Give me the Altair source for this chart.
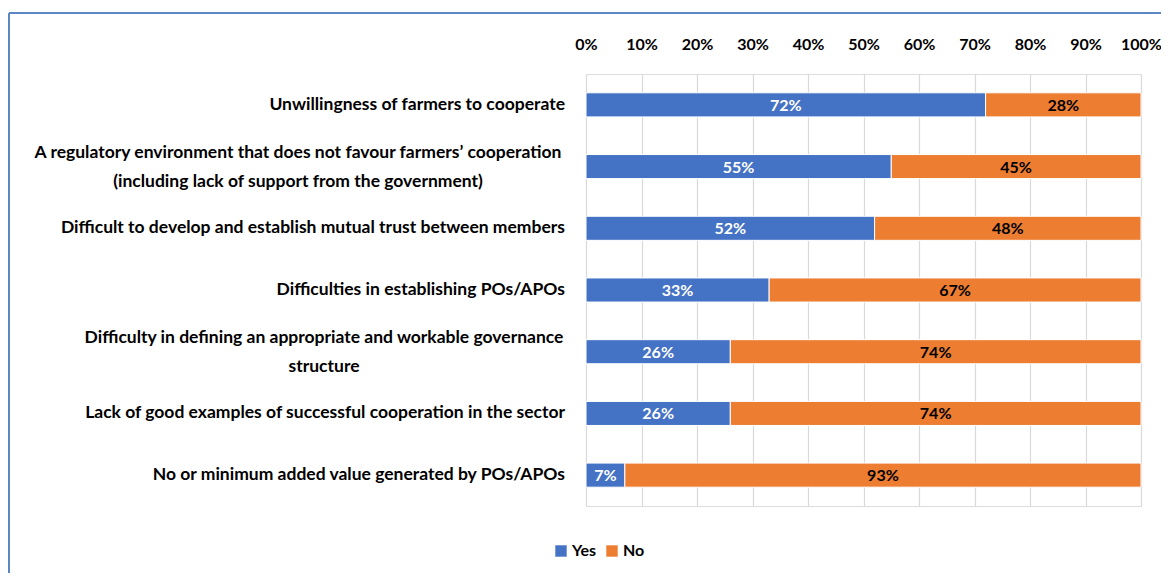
import altair as alt
import pandas as pd

categories = [
    "Unwillingness of farmers to cooperate",
    "A regulatory environment that does not favour farmers\u2019 cooperation|(including lack of support from the government)",
    "Difficult to develop and establish mutual trust between members",
    "Difficulties in establishing POs/APOs",
    "Difficulty in defining an appropriate and workable governance|structure",
    "Lack of good examples of successful cooperation in the sector",
    "No or minimum added value generated by POs/APOs",
]
yes_pct = [72, 55, 52, 33, 26, 26, 7]
no_pct = [28, 45, 48, 67, 74, 74, 93]
series = ["Yes", "No"]
colors = ["#4472C4", "#ED7D31"]
x_ticks = [0, 10, 20, 30, 40, 50, 60, 70, 80, 90, 100]

rows = []
for i, c in enumerate(categories):
    rows.append({"cat": c, "idx": i, "series": "Yes", "ord": 0, "value": yes_pct[i]})
    rows.append({"cat": c, "idx": i, "series": "No", "ord": 1, "value": no_pct[i]})
df = pd.DataFrame(rows)

FONT = "Lato"
FS = 16
LFS = 17.5

y_enc = alt.Y("cat:N", sort=categories, title=None,
              scale=alt.Scale(paddingInner=0.61, paddingOuter=0.305),
              axis=None)

base = alt.Chart(df).transform_stack(
    stack="value", groupby=["cat"], as_=["v0", "v1"], sort=[alt.SortField("ord")]
).transform_calculate(mid="(datum.v0 + datum.v1) / 2", lab="datum.value + '%'")

xscale = alt.Scale(domain=[0, 100], nice=False)

bars = base.mark_bar(stroke="white", strokeWidth=1).encode(
    x=alt.X("v0:Q", scale=xscale, title=None,
            axis=alt.Axis(orient="top", values=x_ticks, labelExpr="datum.value + '%'",
                          domain=False, ticks=False, labelPadding=22, labelOverlap=False,
                          labelFlush=False,
                          labelFont=FONT, labelFontSize=FS, labelFontWeight="bold",
                          labelColor="#000000", gridColor="#d9d9d9", gridWidth=1.2)),
    x2="v1:Q",
    y=y_enc,
    color=alt.Color("series:N", scale=alt.Scale(domain=series, range=colors), title=None,
                    legend=alt.Legend(orient="none", legendX=-33, legendY=469, direction="horizontal",
                                      symbolType="square", symbolSize=130, symbolStrokeWidth=0,
                                      labelFont=FONT, labelFontSize=FS, labelFontWeight="bold",
                                      labelColor="#000000", columnPadding=7, labelOffset=3)),
)

texts = base.mark_text(font=FONT, fontSize=FS, fontWeight="bold", baseline="middle", dy=1).encode(
    x=alt.X("mid:Q", scale=xscale),
    y=y_enc,
    text="lab:N",
    color=alt.Color("series:N", scale=alt.Scale(domain=series, range=["#ffffff", "#000000"]), legend=None),
)

lab_df = pd.DataFrame({"cat": categories, "idx": list(range(len(categories))),
                       "multi": ["|" in c for c in categories]})
single = alt.Chart(lab_df).transform_filter("!datum.multi").mark_text(
    font=FONT, fontSize=LFS, fontWeight="bold", align="right", baseline="middle", color="#000000"
).encode(x=alt.value(-21), y=y_enc, text="cat:N")

# horizontal centre of each wrapped label block (styling only)
multi_centre = {1: -288, 4: -262}
multi_layers = []
for idx, cx in multi_centre.items():
    multi_layers.append(
        alt.Chart(lab_df).transform_filter(f"datum.idx == {idx}").mark_text(
            font=FONT, fontSize=LFS, fontWeight="bold", align="center", baseline="middle",
            color="#000000", lineBreak="|", lineHeight=29, dy=-14
        ).encode(x=alt.value(cx), y=y_enc, text="cat:N")
    )

border_left = alt.Chart(pd.DataFrame({"a": [0]})).mark_rule(color="#5B87C5", strokeWidth=2).encode(
    x=alt.value(-577), y=alt.value(-61), y2=alt.value(520))
border_top = alt.Chart(pd.DataFrame({"a": [0]})).mark_rule(color="#5B87C5", strokeWidth=2).encode(
    x=alt.value(-577), x2=alt.value(600), y=alt.value(-61))

chart = alt.layer(bars, texts, single, *multi_layers, border_left, border_top).resolve_scale(
    color="independent"
).properties(
    width=555, height=432,
    autosize=alt.AutoSizeParams(type="none"),
    padding={"left": 578, "top": 66, "right": 20, "bottom": 67},
).configure_view(stroke=None).configure(background="white")

chart.save("out.html", embed_options={"renderer": "svg", "actions": False})
